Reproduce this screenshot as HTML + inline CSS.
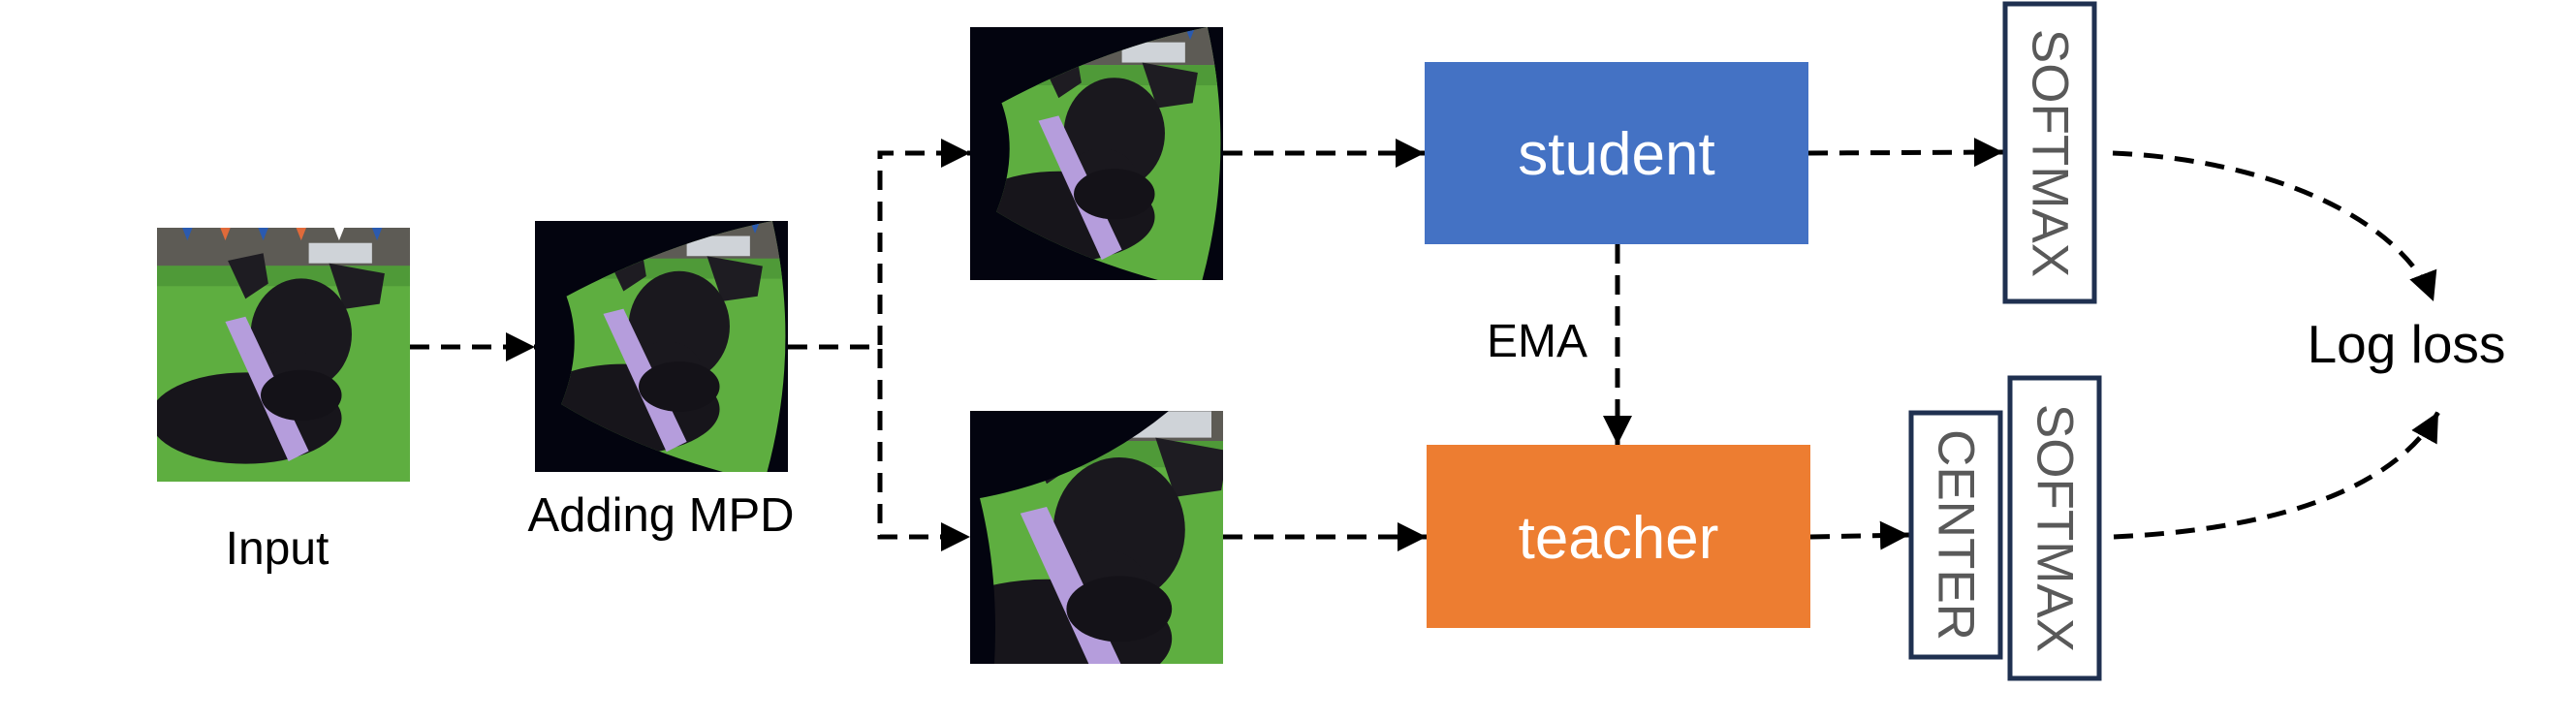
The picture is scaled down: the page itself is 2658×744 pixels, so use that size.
<!DOCTYPE html>
<html><head><meta charset="utf-8"><style>
html,body{margin:0;padding:0;background:#fff;}
svg{display:block;}
text{font-family:"Liberation Sans",Arial,sans-serif;}
</style></head><body>
<svg width="2658" height="744" viewBox="0 0 2658 744" xmlns="http://www.w3.org/2000/svg">
<defs>
<symbol id="dog" viewBox="0 0 100 100" preserveAspectRatio="none">
  <rect x="0" y="0" width="100" height="100" fill="#5eae40"/>
  <rect x="0" y="0" width="100" height="15" fill="#5d5b55"/>
  <rect x="60" y="6" width="25" height="8" fill="#cfd3d8"/>
  <polygon points="10,0 14,0 12,5" fill="#2a5ab0"/>
  <polygon points="25,0 29,0 27,5" fill="#e06a3a"/>
  <polygon points="40,0 44,0 42,5" fill="#2a5ab0"/>
  <polygon points="55,0 59,0 57,5" fill="#e06a3a"/>
  <polygon points="70,0 74,0 72,5" fill="#ffffff"/>
  <polygon points="85,0 89,0 87,5" fill="#2a5ab0"/>
  <rect x="0" y="15" width="100" height="8" fill="#4f9a38"/>
  <ellipse cx="35" cy="75" rx="38" ry="18" fill="#17151b"/>
  <polygon points="28,13 42,10 44,22 35,28" fill="#1e1c22"/>
  <polygon points="68,14 90,18 88,30 74,32" fill="#1e1c22"/>
  <ellipse cx="57" cy="42" rx="20" ry="22" fill="#1a181e"/>
  <ellipse cx="52" cy="60" rx="14" ry="12" fill="#1a181e"/>
  <polygon points="27,37 35,35 60,88 52,92" fill="#b59ddc"/>
  <ellipse cx="57" cy="66" rx="16" ry="10" fill="#141218"/>
</symbol>
<clipPath id="fan1" clipPathUnits="objectBoundingBox">
  <path d="M0.15,0.3 Q0.55,0.08 0.94,0 Q1.05,0.5 0.92,1 L0.75,1 Q0.4,0.9 0.13,0.73 Q0.22,0.5 0.15,0.3 Z"/>
</clipPath>
<marker id="ah" viewBox="0 0 10 10" refX="10" refY="5" markerWidth="6" markerHeight="6" markerUnits="strokeWidth" orient="auto">
  <path d="M0,0 L10,5 L0,10 Z" fill="#000"/>
</marker>
</defs>

<!-- input -->
<use href="#dog" x="162" y="235" width="261" height="262"/>
<text x="286" y="582" font-size="48" text-anchor="middle">Input</text>

<!-- MPD -->
<rect x="552" y="228" width="261" height="259" fill="#03040f"/>
<g clip-path="url(#fan1)"><use href="#dog" x="552" y="228" width="261" height="259"/></g>
<text x="682" y="548" font-size="49" text-anchor="middle">Adding MPD</text>

<!-- top crop -->
<rect x="1001" y="28" width="261" height="261" fill="#03040f"/>
<g clip-path="url(#fan1)"><use href="#dog" x="1001" y="28" width="261" height="261"/></g>

<!-- bottom crop -->
<svg x="1001" y="424" width="261" height="261" viewBox="0 0 261 261">
  <rect x="0" y="0" width="261" height="261" fill="#5eae40"/>
  <use href="#dog" x="-40" y="-20" width="340" height="340"/>
  <path d="M0,0 L205,0 Q120,70 10,90 Q30,170 25,261 L0,261 Z" fill="#03040f"/>
</svg>

<g stroke="#000" stroke-width="5" fill="none" stroke-dasharray="20,12">
  <line x1="423" y1="358" x2="552" y2="358" marker-end="url(#ah)"/>
  <line x1="813" y1="358" x2="908" y2="358"/>
  <polyline points="908,356 908,158 1001,158" marker-end="url(#ah)"/>
  <polyline points="908,360 908,554 1001,554" marker-end="url(#ah)"/>
  <line x1="1262" y1="158" x2="1470" y2="158" marker-end="url(#ah)"/>
  <line x1="1262" y1="554" x2="1472" y2="554" marker-end="url(#ah)"/>
  <line x1="1866" y1="158" x2="2067" y2="157" marker-end="url(#ah)"/>
  <line x1="1868" y1="554" x2="1970" y2="552" marker-end="url(#ah)"/>
  <line x1="1669" y1="252" x2="1669" y2="459" marker-end="url(#ah)"/>
  <path d="M2180,158 C2350,165 2480,230 2511,311" marker-end="url(#ah)"/>
  <path d="M2181,554 C2380,545 2480,490 2516,425" marker-end="url(#ah)"/>
</g>

<!-- student / teacher -->
<rect x="1470" y="64" width="396" height="188" fill="#4472c4"/>
<text x="1668" y="180" font-size="62" fill="#fff" text-anchor="middle">student</text>
<rect x="1472" y="459" width="396" height="189" fill="#ed7d31"/>
<text x="1670" y="576" font-size="62" fill="#fff" text-anchor="middle">teacher</text>
<text x="1586" y="368" font-size="48" text-anchor="middle">EMA</text>

<!-- softmax / center boxes -->
<g stroke="#1f3050" stroke-width="5" fill="#fff">
  <rect x="2069" y="4" width="92" height="307"/>
  <rect x="1972" y="426" width="92" height="252"/>
  <rect x="2074" y="390" width="92" height="310"/>
</g>
<g fill="#595959" font-size="53" text-anchor="middle" dominant-baseline="central">
  <text transform="translate(2115,158) rotate(90)">SOFTMAX</text>
  <text transform="translate(2018,552) rotate(90)">CENTER</text>
  <text transform="translate(2120,545) rotate(90)">SOFTMAX</text>
</g>
<text x="2483" y="374" font-size="55" text-anchor="middle">Log loss</text>
</svg>
</body></html>
